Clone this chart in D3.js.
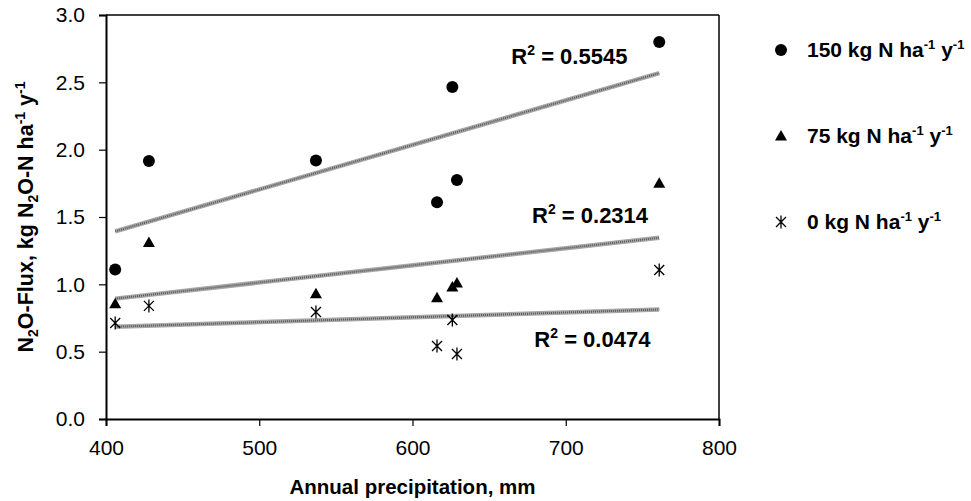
<!DOCTYPE html>
<html>
<head>
<meta charset="utf-8">
<script src="https://cdn.jsdelivr.net/npm/d3@7"></script>
<style>
  body { margin: 0; background: #fff; }
  svg text { font-family: Arial, 'Liberation Sans', Helvetica, sans-serif; }
</style>
</head>
<body>
<div id="chart"></div>
<script>
// annual precipitation (mm) per site-year
const precip = [406, 428, 537, 616, 626, 629, 761];
// N2O flux, kg N2O-N ha-1 y-1
const flux150 = [1.11, 1.915, 1.92, 1.61, 2.465, 1.775, 2.80];
const flux75 = [0.855, 1.31, 0.93, 0.90, 0.98, 1.01, 1.75];
const flux0 = [0.713, 0.84, 0.795, 0.542, 0.735, 0.483, 1.106];

const seriesNames = ['150', '75', '0'];
const seriesShapes = ['circle', 'triangle', 'star'];
const r2Labels = ['0.5545', '0.2314', '0.0474'];
// label anchor in data units (precip, flux)
const r2Pos = [[664.5, 2.635], [678, 1.455], [679.5, 0.535]];

const xTicks = [400, 500, 600, 700, 800];
const yTicks = [0, 0.5, 1, 1.5, 2, 2.5, 3];

const width = 971, height = 501;
const margin = { top: 15, right: 252, bottom: 82, left: 106 };
const innerW = width - margin.left - margin.right;
const innerH = height - margin.top - margin.bottom;

const svg = d3.select('#chart').append('svg')
  .attr('width', width)
  .attr('height', height);

const g = svg.append('g').attr('transform', `translate(${margin.left},${margin.top})`);

const x = d3.scaleLinear().domain([400, 800]).range([0, innerW]);
const y = d3.scaleLinear().domain([0, 3]).range([innerH, 0]);

const allSeries = [flux150, flux75, flux0];

// marker shapes
function marker(sel, shape) {
  if (shape === 'circle') {
    sel.append('circle').attr('r', 6).attr('fill', '#000');
  } else if (shape === 'triangle') {
    sel.append('path').attr('d', 'M0,-6L6,4.5L-6,4.5Z').attr('fill', '#000');
  } else {
    sel.append('path')
      .attr('d', 'M-5,-5L5,5M-5,5L5,-5M0,-6.5L0,6.5')
      .attr('stroke', '#000').attr('stroke-width', 1.3).attr('fill', 'none');
  }
}

// trend lines (least squares fit)
allSeries.forEach((vals) => {
  const mx = d3.mean(precip), my = d3.mean(vals);
  const sxy = d3.sum(precip, (p, i) => (p - mx) * (vals[i] - my));
  const sxx = d3.sum(precip, (p) => (p - mx) * (p - mx));
  const slope = sxy / sxx, icpt = my - slope * mx;
  const ext = d3.extent(precip);
  const pts = ext.map((p) => [x(p), y(icpt + slope * p)]);
  g.append('line')
    .attr('x1', pts[0][0]).attr('y1', pts[0][1])
    .attr('x2', pts[1][0]).attr('y2', pts[1][1])
    .attr('stroke', '#a8a8a8').attr('stroke-width', 4.5);
  g.append('line')
    .attr('x1', pts[0][0]).attr('y1', pts[0][1])
    .attr('x2', pts[1][0]).attr('y2', pts[1][1])
    .attr('stroke', '#5a5a5a').attr('stroke-width', 2)
    .attr('stroke-dasharray', '1 1');
});

// points
allSeries.forEach((vals, si) => {
  vals.forEach((v, i) => {
    const m = g.append('g').attr('transform', `translate(${x(precip[i])},${y(v)})`);
    marker(m, seriesShapes[si]);
  });
});

// R² labels
r2Labels.forEach((lab, i) => {
  const t = g.append('text')
    .attr('x', x(r2Pos[i][0])).attr('y', y(r2Pos[i][1]))
    .attr('font-size', 22).attr('font-weight', 'bold');
  t.append('tspan').text('R');
  t.append('tspan').attr('font-size', 14).attr('dy', -9).text('2');
  t.append('tspan').attr('dy', 9).text(' = ' + lab);
});

// frame
g.append('line').attr('x1', 0).attr('x2', innerW).attr('y1', 0).attr('y2', 0)
  .attr('stroke', '#000').attr('stroke-width', 1.5);
g.append('line').attr('x1', innerW).attr('x2', innerW).attr('y1', 0).attr('y2', innerH)
  .attr('stroke', '#000').attr('stroke-width', 1.5);

// axes
const xAxis = g.append('g').attr('transform', `translate(0,${innerH})`)
  .call(d3.axisBottom(x).tickValues(xTicks).tickSizeOuter(0).tickSize(7).tickPadding(14));
const yAxis = g.append('g')
  .call(d3.axisLeft(y).tickValues(yTicks).tickFormat(d3.format('.1f')).tickSizeOuter(0).tickSize(7).tickPadding(14));

[xAxis, yAxis].forEach((ax) => {
  ax.select('.domain').attr('stroke-width', 2);
  ax.selectAll('.tick line').attr('stroke-width', 1.2);
  ax.selectAll('.tick text').attr('font-size', 21).attr('fill', '#000')
    .attr('font-family', "Arial, 'Liberation Sans', sans-serif");
});

// axis titles
svg.append('text')
  .attr('x', margin.left + innerW / 2).attr('y', 494)
  .attr('text-anchor', 'middle').attr('font-size', 20.5).attr('font-weight', 'bold')
  .text('Annual precipitation, mm');

const yt = svg.append('text')
  .attr('transform', `translate(33,${margin.top + innerH / 2}) rotate(-90)`)
  .attr('text-anchor', 'middle').attr('font-size', 21.5).attr('font-weight', 'bold');
yt.append('tspan').text('N');
yt.append('tspan').attr('font-size', 14).attr('dy', 5).text('2');
yt.append('tspan').attr('dy', -5).text('O-Flux, kg N');
yt.append('tspan').attr('font-size', 14).attr('dy', 5).text('2');
yt.append('tspan').attr('dy', -5).text('O-N ha');
yt.append('tspan').attr('font-size', 14).attr('dy', -8).text('-1');
yt.append('tspan').attr('dy', 8).text(' y');
yt.append('tspan').attr('font-size', 14).attr('dy', -8).text('-1');

// legend
const legendY = [50, 136, 222];
seriesNames.forEach((name, i) => {
  const row = svg.append('g').attr('transform', `translate(781,${legendY[i]})`);
  marker(row, seriesShapes[i]);
  const t = row.append('text').attr('x', 26).attr('y', 7)
    .attr('font-size', 21).attr('font-weight', 'bold');
  t.append('tspan').text(name + ' kg N ha');
  t.append('tspan').attr('font-size', 13).attr('dy', -8).text('-1');
  t.append('tspan').attr('dy', 8).text(' y');
  t.append('tspan').attr('font-size', 13).attr('dy', -8).text('-1');
});
</script>
</body>
</html>
